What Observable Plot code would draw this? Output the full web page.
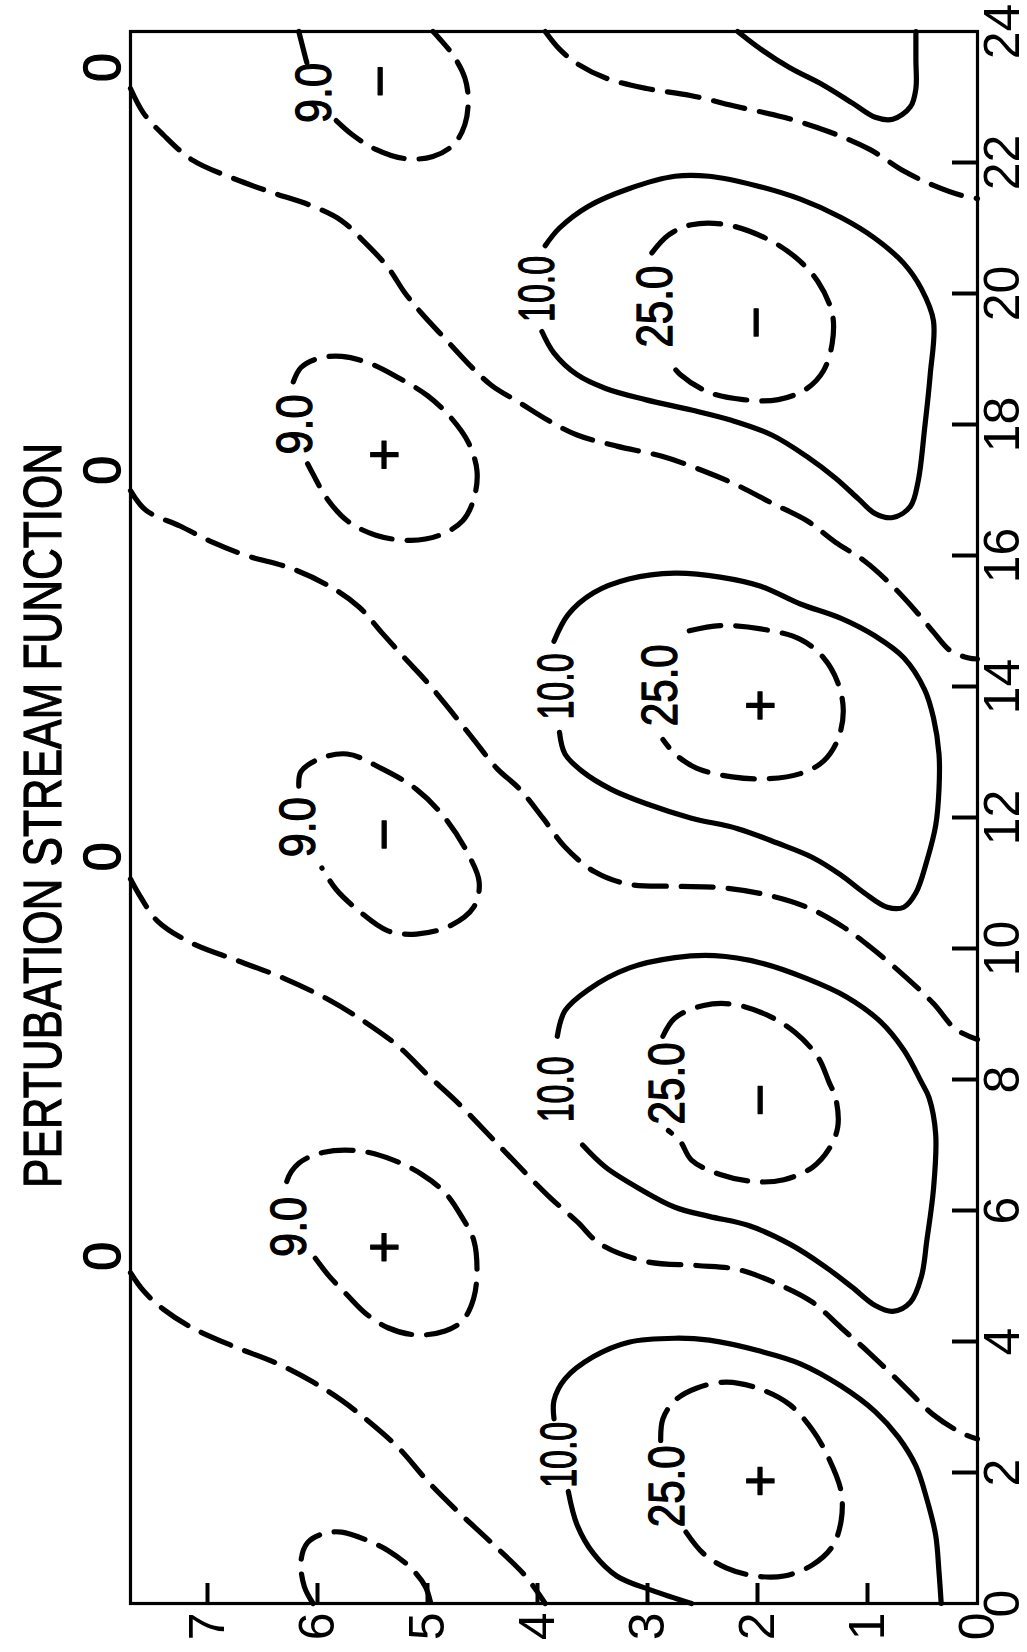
<!DOCTYPE html>
<html>
<head>
<meta charset="utf-8">
<script src="https://cdn.jsdelivr.net/npm/d3@7"></script>
<script src="https://cdn.jsdelivr.net/npm/@observablehq/plot@0.6"></script>
<style>
html, body { margin: 0; padding: 0; background: #fff; overflow: hidden; }
#page { position: absolute; left: 0; top: 0; width: 1652px; height: 1027px; background: #fff;
  transform-origin: 0 0; transform: translate(0px, 1652px) rotate(-90deg); }
#title { position: absolute; left: 0; top: 0; width: 1652px; height: 80px; }
#titletext { position: absolute; white-space: nowrap; font-family: "Liberation Sans", Arial, sans-serif;
  font-size: 54px; line-height: 1; color: #000; transform-origin: 0 0; -webkit-text-stroke: 1.2px #000; }
#chart { position: absolute; left: 0; top: 80px; }
</style>
</head>
<body>
<div id="page">
  <div id="title"><span id="titletext">PERTUBATION STREAM FUNCTION</span></div>
  <div id="chart"></div>
</div>
<script>
// ---- axes ----
const xTicks = [0, 2, 4, 6, 8, 10, 12, 14, 16, 18, 20, 22, 24];
const yTicks = [0, 1, 2, 3, 4, 5, 6, 7];

// ---- solid 10.0 contours (x, y) ----
const c10_1a = [[0,2.60],[0.20,2.96],[0.42,3.28],[0.76,3.49],[1.20,3.64],[1.71,3.72]];
const c10_1b = [[2.82,3.85],[3.10,3.85],[3.43,3.75],[3.77,3.49],[3.99,3.17],[4.05,2.75],[4.02,2.44],[3.85,1.97],[3.66,1.61],[3.32,1.24],[2.93,0.93],[2.54,0.72],[2.10,0.56],[1.59,0.46],[1.04,0.38],[0.48,0.35],[0,0.33]];
const c10_2 = [[8.66,3.82],[9.05,3.75],[9.37,3.54],[9.70,3.17],[9.86,2.75],[9.89,2.39],[9.78,1.97],[9.54,1.55],[9.26,1.19],[8.88,0.88],[8.45,0.67],[7.96,0.51],[7.72,0.44],[7.16,0.38],[6.33,0.40],[5.55,0.46],[4.99,0.51],[4.60,0.61],[4.46,0.77],[4.55,0.93],[4.83,1.14],[5.16,1.40],[5.49,1.71],[5.77,2.08],[5.91,2.44],[6.05,2.75],[6.33,3.07],[6.66,3.38],[7.00,3.59]];
const c10_3 = [[13.30,3.80],[12.97,3.75],[12.70,3.59],[12.43,3.33],[12.21,3.01],[11.99,2.60],[11.83,2.18],[11.61,1.82],[11.39,1.50],[11.12,1.24],[10.85,1.03],[10.63,0.82],[10.63,0.67],[10.85,0.56],[11.34,0.46],[11.88,0.38],[12.43,0.35],[12.97,0.35],[13.52,0.40],[13.95,0.48],[14.44,0.67],[14.77,0.93],[15.04,1.24],[15.26,1.61],[15.53,1.97],[15.67,2.34],[15.73,2.75],[15.64,3.17],[15.43,3.49],[15.10,3.72],[14.69,3.85]];
const c10_4 = [[20.73,3.93],[21.00,3.80],[21.33,3.54],[21.60,3.17],[21.79,2.75],[21.79,2.44],[21.65,2.02],[21.44,1.61],[21.16,1.24],[20.84,0.93],[20.46,0.67],[20.07,0.51],[19.58,0.40],[18.76,0.43],[17.95,0.48],[17.13,0.54],[16.75,0.61],[16.58,0.77],[16.64,0.93],[16.86,1.08],[17.18,1.29],[17.51,1.55],[17.84,1.87],[18.06,2.23],[18.22,2.60],[18.38,3.02],[18.55,3.38],[18.76,3.64],[19.09,3.85],[19.42,3.96]];
const c10_5 = [[24,2.18],[23.73,1.97],[23.45,1.71],[23.18,1.40],[22.91,1.14],[22.69,0.93],[22.66,0.77],[22.85,0.61],[23.13,0.56],[23.56,0.56],[24,0.56]];

// ---- dashed 25.0 contours ----
const c25_1 = [[2.49,2.88],[2.82,2.86],[3.10,2.75],[3.29,2.55],[3.38,2.28],[3.27,1.97],[3.04,1.71],[2.65,1.50],[2.21,1.35],[1.71,1.24],[1.26,1.24],[0.87,1.32],[0.59,1.50],[0.42,1.76],[0.42,2.02],[0.54,2.28],[0.76,2.49],[1.09,2.65]];
const c25_2 = [[8.66,2.86],[8.94,2.75],[9.13,2.49],[9.15,2.23],[8.99,1.92],[8.72,1.66],[8.34,1.45],[7.96,1.35],[7.72,1.29],[7.28,1.27],[6.94,1.35],[6.66,1.50],[6.47,1.76],[6.44,2.02],[6.55,2.34],[6.77,2.60],[7.05,2.70],[7.22,2.81]];
const c25_3 = [[14.85,2.62],[14.93,2.34],[14.88,1.97],[14.72,1.61],[14.44,1.40],[14.06,1.27],[13.63,1.22],[13.19,1.27],[12.86,1.40],[12.67,1.61],[12.59,1.92],[12.62,2.23],[12.75,2.55],[12.97,2.75],[13.19,2.86]];
const c25_4 = [[20.62,2.96],[20.89,2.81],[21.05,2.60],[21.05,2.28],[20.84,1.92],[20.56,1.66],[20.18,1.45],[19.69,1.32],[19.25,1.32],[18.82,1.40],[18.55,1.55],[18.38,1.81],[18.38,2.13],[18.49,2.44],[18.76,2.70],[18.98,2.81]];

// ---- dashed 9.0 contours ----
const c9_0 = [[0,6.04],[0.26,6.12],[0.65,6.15],[0.93,6.09],[1.07,5.94],[1.09,5.78],[0.98,5.57],[0.81,5.36],[0.54,5.15],[0.26,5.02],[0,4.97]];
const c9_1 = [[5.27,6.02],[4.99,5.89],[4.71,5.73],[4.44,5.57],[4.21,5.36],[4.10,5.10],[4.16,4.84],[4.32,4.68],[4.66,4.58],[5.10,4.55],[5.55,4.58],[5.88,4.68],[6.27,4.84],[6.55,5.05],[6.77,5.31],[6.91,5.62],[6.89,5.94],[6.72,6.17],[6.44,6.28],[6.22,6.28]];
const c9_2 = [[12.48,6.17],[12.70,6.15],[12.89,5.99],[12.97,5.73],[12.75,5.42],[12.43,5.10],[11.99,4.84],[11.44,4.63],[11.01,4.53],[10.63,4.58],[10.35,4.79],[10.22,5.10],[10.27,5.36],[10.57,5.62],[10.90,5.83],[11.23,5.96]];
const c9_3 = [[18.65,6.22],[18.87,6.15],[19.01,5.99],[19.04,5.78],[18.93,5.52],[18.71,5.26],[18.44,5.00],[18.11,4.79],[17.73,4.63],[17.29,4.55],[16.86,4.58],[16.53,4.68],[16.31,4.89],[16.23,5.15],[16.31,5.47],[16.53,5.73],[16.86,5.91],[17.24,6.04],[17.40,6.09]];
const c9_4a = [[24,6.17],[23.67,6.12],[23.48,6.09]];
const c9_4b = [[22.64,5.83],[22.42,5.68],[22.20,5.47],[22.06,5.21],[22.09,4.95],[22.28,4.76],[22.58,4.66],[22.96,4.63],[23.29,4.66],[23.62,4.76],[23.89,4.89],[24,4.95]];

// ---- dashed zero contours ----
const c0_1 = [[5.05,7.7],[4.77,7.58],[4.49,7.40],[4.21,7.14],[3.93,6.77],[3.66,6.36],[3.38,6.04],[3.10,5.78],[2.76,5.52],[2.37,5.26],[1.87,5.00],[1.43,4.74],[0.93,4.42],[0.42,4.11],[0,3.93]];
const c0_2 = [[11.06,7.7],[10.79,7.61],[10.41,7.45],[10.08,7.14],[9.81,6.72],[9.54,6.30],[9.21,5.89],[8.88,5.57],[8.50,5.26],[8.07,5.00],[7.67,4.74],[6.94,4.32],[6.22,3.90],[5.83,3.64],[5.49,3.43],[5.22,3.01],[5.16,2.55],[5.10,2.18],[4.88,1.82],[4.60,1.50],[4.21,1.24],[3.82,0.98],[3.32,0.67],[2.88,0.40],[2.60,0.14],[2.51,0]];
const c0_3 = [[16.99,7.7],[16.69,7.56],[16.45,7.25],[16.20,6.95],[16.00,6.65],[15.81,6.25],[15.53,5.89],[15.21,5.62],[14.83,5.42],[14.44,5.21],[14.06,5.00],[13.63,4.79],[13.19,4.58],[12.75,4.37],[12.43,4.16],[11.99,3.95],[11.55,3.75],[11.17,3.48],[10.98,3.17],[10.95,2.75],[10.93,2.34],[10.82,1.92],[10.63,1.55],[10.35,1.24],[10.03,0.98],[9.59,0.67],[9.16,0.40],[8.77,0.20],[8.61,0]];
const c0_4 = [[23.13,7.7],[22.75,7.58],[22.42,7.40],[22.04,7.14],[21.76,6.77],[21.54,6.41],[21.33,6.04],[21.11,5.78],[20.78,5.57],[20.40,5.36],[20.02,5.21],[19.69,5.05],[19.31,4.84],[18.93,4.63],[18.60,4.42],[18.33,4.16],[18.06,3.90],[17.84,3.64],[17.67,3.28],[17.51,2.86],[17.29,2.49],[17.07,2.18],[16.80,1.87],[16.53,1.55],[16.20,1.29],[15.92,1.03],[15.53,0.77],[15.15,0.56],[14.83,0.40],[14.55,0.25],[14.44,0.09],[14.42,0]];
const c0_5 = [[24,3.93],[23.73,3.80],[23.51,3.64],[23.29,3.38],[23.13,3.01],[23.02,2.60],[22.85,2.18],[22.69,1.76],[22.47,1.35],[22.20,0.98],[21.87,0.67],[21.65,0.40],[21.50,0.15],[21.45,0]];

// ---- contour labels ----
const labelText = ["10.0", "10.0", "10.0", "10.0", "25.0", "25.0", "25.0", "25.0", "9.0", "9.0", "9.0", "9.0"];
const labelX = [2.27, 7.85, 14.0, 20.07, 1.79, 7.94, 14.02, 19.80, 5.75, 11.85, 18.0, 23.06];
const labelY = [3.80, 3.82, 3.82, 4.00, 2.81, 2.81, 2.88, 2.92, 6.25, 6.17, 6.20, 6.02];

// zero-contour labels (above the frame)
const zeroLabelX = [5.3, 11.4, 17.3, 23.45];

// ---- centre signs ----
const signText = ["+", "+", "+", "+", "−", "−", "−", "−"];
const signX = [1.87, 5.44, 13.71, 17.54, 7.69, 11.74, 19.56, 23.24];
const signY = [1.97, 5.39, 1.97, 5.39, 1.97, 5.39, 2.00, 5.42];

const titleText = "PERTUBATION STREAM FUNCTION";

// ---------------------------------------------------------------
const solidSegs = [c10_1a, c10_1b, c10_2, c10_3, c10_4, c10_5];
const dashedSegs = [c25_1, c25_2, c25_3, c25_4, c9_0, c9_1, c9_2, c9_3, c9_4a, c9_4b, c0_1, c0_2, c0_3, c0_4, c0_5];
const toRows = segs => segs.flatMap((seg, i) => seg.map(([x, y]) => ({x, y, id: i})));
const solidRows = toRows(solidSegs);
const dashedRows = toRows(dashedSegs);
const labels = labelText.map((t, i) => ({t, x: labelX[i], y: labelY[i]}));
const signs = signText.map((t, i) => ({t, x: signX[i], y: signY[i]}));

const W = 1652, H = 947;
const mT = 50, mB = 50, mL = 48, mR = 32;
const innerW = W - mL - mR, innerH = H - mT - mB;
const FONT = '"Liberation Sans", Arial, sans-serif';
const textInk = {fill: "black", stroke: "black", strokeWidth: 1.3};

const chart = Plot.plot({
  width: W, height: H,
  marginTop: mT, marginBottom: mB, marginLeft: mL, marginRight: mR,
  x: {domain: [0, 24]},
  y: {domain: [0, 7.7]},
  style: {fontFamily: FONT, background: "white", color: "black", overflow: "visible"},
  marks: [
    Plot.line(solidRows, {x: "x", y: "y", z: "id", curve: "catmull-rom", stroke: "black", strokeWidth: 5.2, strokeLinecap: "round"}),
    Plot.line(dashedRows, {x: "x", y: "y", z: "id", curve: "catmull-rom", stroke: "black", strokeWidth: 5.2, strokeDasharray: "32,15"}),
    Plot.frame({stroke: "black", strokeWidth: 3.2}),
    Plot.tickX(xTicks.filter(d => d > 0 && d < 24), {x: d => d, stroke: "black", strokeWidth: 4, insetTop: innerH - 25}),
    Plot.tickY(yTicks.filter(d => d > 0), {y: d => d, stroke: "black", strokeWidth: 4, insetRight: innerW - 21}),
    Plot.axisX({ticks: xTicks, tickSize: 0, tickPadding: 6, fontSize: 50, label: null, tickFormat: d => String(d), ...textInk}),
    Plot.axisY({ticks: yTicks, tickSize: 0, tickPadding: 9, fontSize: 50, label: null, tickFormat: d => String(d), ...textInk}),
    Plot.text(labels, {x: "x", y: "y", text: "t", fontSize: 50, ...textInk}),
    Plot.text(signs, {x: "x", y: "y", text: "t", fontSize: 56, ...textInk}),
    Plot.text(zeroLabelX, {x: d => d, frameAnchor: "top", lineAnchor: "middle", dy: -27, text: () => "0", fontSize: 52, ...textInk})
  ]
});
document.getElementById("chart").appendChild(chart);

// compress contour labels to the reference's narrow lettering
const labelLen = {"10.0": 66, "25.0": 82, "9.0": 60};
chart.querySelectorAll("text").forEach(el => {
  const t = el.textContent;
  if (labelLen[t]) {
    el.setAttribute("textLength", labelLen[t]);
    el.setAttribute("lengthAdjust", "spacingAndGlyphs");
  }
});

// title
const tt = document.getElementById("titletext");
tt.textContent = titleText;
const naturalW = tt.offsetWidth;
const targetW = 745, centerU = 836, F = 54;
tt.style.transform = `scaleX(${targetW / naturalW})`;
tt.style.left = (centerU - targetW / 2) + "px";
tt.style.top = (41 - 0.4885 * F) + "px";
</script>
</body>
</html>
